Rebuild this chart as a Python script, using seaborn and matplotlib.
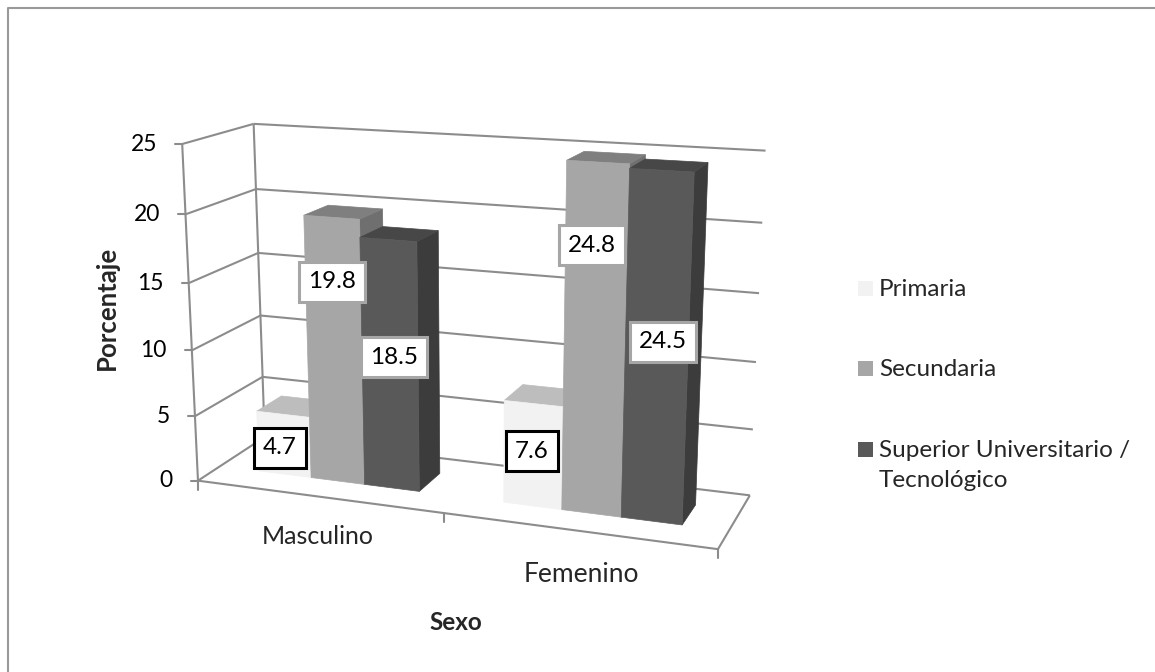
import numpy as np
import pandas as pd
import matplotlib
matplotlib.use("Agg")
import matplotlib.pyplot as plt
from matplotlib.patches import Polygon, Rectangle
import seaborn as sns

sexo = ["Masculino", "Femenino"]
niveles = ["Primaria", "Secundaria", "Superior Universitario /\nTecnológico"]
primaria = [4.7, 7.6]
secundaria = [19.8, 24.8]
superior = [18.5, 24.5]
y_ticks = [0, 5, 10, 15, 20, 25]

# colours per series: front, top, right side
front = ["#f2f2f2", "#a6a6a6", "#595959"]
top = ["#bdbdbd", "#7f7f7f", "#474747"]
side = ["#b0b0b0", "#6f6f6f", "#3c3c3c"]
label_edges = ["#000000", "#a6a6a6", "#a6a6a6"]

sns.set_theme(style="white")
plt.rcParams["font.family"] = ["Lato", "DejaVu Sans"]

df = pd.DataFrame({
    "sexo": sexo * 3,
    "nivel": np.repeat(niveles, 2),
    "pct": primaria + secundaria + superior,
})

fig = plt.figure(figsize=(11.55, 6.72), dpi=100)

# seaborn works out the dodged bars, the perspective is applied afterwards
tmp = fig.add_axes([0, 0, 1, 1])
sns.barplot(data=df, x="sexo", y="pct", hue="nivel", order=sexo, hue_order=niveles,
            width=2 / 3, gap=0, legend=False, errorbar=None, ax=tmp)
bars = [(p.get_x() + 0.5, p.get_width(), p.get_height()) for p in tmp.patches]
tmp.remove()

# camera fitted on the corners of the 3d box (category, depth, value) -> pixel
calib_world = np.array([
    (0, 0, 25), (0, 0, 20), (0, 0, 15), (0, 0, 10), (0, 0, 5), (0, 0, 0),
    (0, 1, 25), (0, 1, 20), (0, 1, 15), (0, 1, 5),
    (2, 1, 25), (2, 1, 20), (2, 1, 15), (2, 1, 5), (2, 1, 0),
    (2, 0, 0), (1, 0, 0)], dtype=float)
calib_px = np.array([
    (182, 144), (186, 214), (189, 283), (192, 350), (195, 416), (198, 481),
    (253, 124), (256, 189), (258, 253), (263, 377),
    (766, 151), (762, 223), (759, 293), (753, 429), (750, 495),
    (718, 549), (443, 514)], dtype=float)
rows = []
for (X, Y, Z), (u, v) in zip(calib_world, calib_px):
    rows.append([X, Y, Z, 1, 0, 0, 0, 0, -u * X, -u * Y, -u * Z, -u])
    rows.append([0, 0, 0, 0, X, Y, Z, 1, -v * X, -v * Y, -v * Z, -v])
cam = np.linalg.svd(np.array(rows))[2][-1].reshape(3, 4)


def proj(x, d, z):
    p = cam @ np.array([x, d, z, 1.0])
    return p[0] / p[2], p[1] / p[2]


ax = fig.add_axes([0, 0, 1, 1])
ax.set_xlim(0, 1155)
ax.set_ylim(672, 0)
ax.axis("off")

grid = "#8c8c8c"
# only the top and left of the chart frame show in the original
ax.plot([7.5, 7.5, 1155], [672, 7.5, 7.5], color="#999999", lw=1.5, zorder=1)


def line(a, b):
    ax.plot(*zip(proj(*a), proj(*b)), color=grid, lw=1.5, solid_capstyle="butt", zorder=1)


# walls and floor
for t in y_ticks:
    line((0, 0, t), (0, 1, t))
    line((0, 1, t), (2, 1, t))
    x0, y0 = proj(0, 0, t)
    ax.plot([x0 - 7, x0], [y0, y0], color=grid, lw=1.5, zorder=1)
    ax.text(x0 - 25, y0, str(t), ha="right", va="center", fontsize=16.5, color="black")
line((0, 0, 0), (0, 0, 25))
line((0, 0, 0), (2, 0, 0))
line((2, 0, 0), (2, 1, 0))
line((0, 1, 0), (0, 1, 25))
for c in [0, 1, 2]:
    x0, y0 = proj(c, 0, 0)
    ax.plot([x0, x0], [y0, y0 + 9], color=grid, lw=1.5, zorder=1)

# 3d bars, left to right
d0, d1 = 0.32, 0.70
n = len(niveles)
for c in range(2):
    for s in range(n):
        x, w, h = bars[s * 2 + c]
        faces = [
            ([(x + w, d0, 0), (x + w, d1, 0), (x + w, d1, h), (x + w, d0, h)], side[s]),
            ([(x, d0, h), (x + w, d0, h), (x + w, d1, h), (x, d1, h)], top[s]),
            ([(x, d0, 0), (x + w, d0, 0), (x + w, d0, h), (x, d0, h)], front[s]),
        ]
        for pts, col in faces:
            ax.add_patch(Polygon([proj(*q) for q in pts], closed=True, fc=col, ec=col, lw=0.5, zorder=2))

# value labels, moved by hand in the original chart
label_xy = [(280, 448), (532, 451), (332, 282), (592, 245), (394, 357), (663, 342)]
label_series = [0, 0, 1, 1, 2, 2]
for (lx, ly), s, v in zip(label_xy, label_series, primaria + secundaria + superior):
    ax.text(lx, ly, f"{v}", ha="center", va="center", fontsize=17.5, color="black", zorder=5,
            bbox=dict(boxstyle="square,pad=0.38", fc="white", ec=label_edges[s], lw=2.2))

# category and axis titles
ax.text(318, 537, sexo[0], ha="center", va="center", fontsize=18)
ax.text(581, 574, sexo[1], ha="center", va="center", fontsize=19)
ax.text(456, 623, "Sexo", ha="center", va="center", fontsize=17.5, fontweight="bold")
ax.text(107, 308, "Porcentaje", ha="center", va="center", rotation=90, fontsize=18.5, fontweight="bold")

# legend
legend_y = [288, 368, 449]
for name, col, ly in zip(niveles, front, legend_y):
    ax.add_patch(Rectangle((858, ly - 7.5), 15, 15, fc=col, ec="none"))
    ax.text(879, ly - 9, name, ha="left", va="top", fontsize=17.5, linespacing=1.55)

fig.savefig("out.png", dpi=100)
